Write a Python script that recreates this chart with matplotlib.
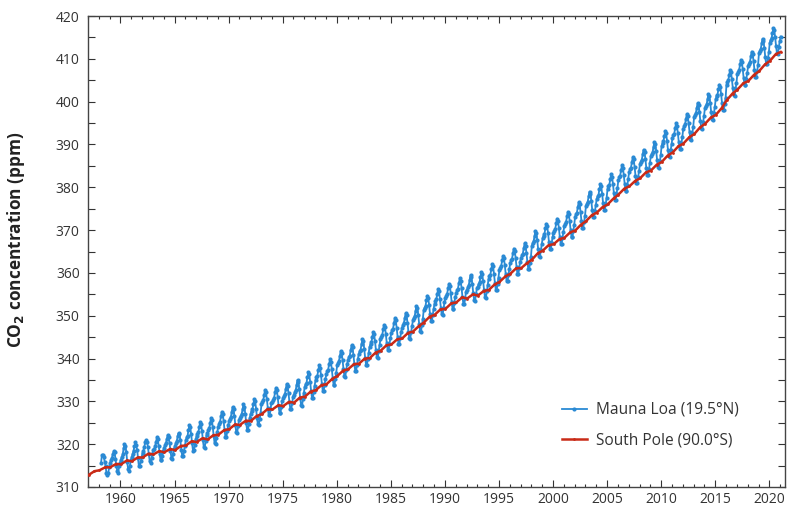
import numpy as np
import matplotlib.pyplot as plt
from matplotlib.ticker import MultipleLocator

# Mauna Loa monthly means (ppm), one row per year, Jan..Dec
ml_start = 1958
mauna_loa = [
    [np.nan, np.nan, 315.7, 317.5, 317.5, 317.1, 315.9, 314.9, 313.2, 312.7, 313.3, 314.7],
    [315.6, 316.4, 316.7, 317.7, 318.3, 318.2, 316.5, 314.8, 313.8, 313.3, 314.8, 315.6],
    [316.4, 317.0, 317.6, 319.0, 320.0, 319.6, 318.2, 315.9, 314.2, 313.8, 315.0, 316.2],
    [316.9, 317.7, 318.5, 319.5, 320.4, 319.8, 318.7, 316.7, 314.8, 315.0, 316.0, 317.1],
    [317.9, 318.5, 319.4, 320.4, 321.0, 320.6, 319.3, 317.6, 316.0, 315.6, 316.8, 317.8],
    [318.6, 318.9, 319.5, 320.6, 321.6, 321.1, 319.5, 317.8, 316.3, 316.2, 317.2, 318.4],
    [319.2, 319.8, 320.2, 321.3, 322.2, 321.6, 320.2, 318.4, 316.8, 316.6, 317.8, 318.9],
    [319.6, 320.2, 320.7, 321.9, 322.6, 322.3, 320.9, 318.7, 317.3, 317.2, 318.4, 319.6],
    [320.9, 321.6, 322.0, 323.3, 324.4, 323.9, 322.3, 320.2, 318.5, 318.6, 319.8, 321.1],
    [321.8, 322.4, 322.8, 324.1, 325.2, 324.7, 323.0, 320.9, 319.3, 319.2, 320.7, 322.1],
    [322.6, 323.2, 323.7, 324.9, 326.1, 325.6, 323.9, 321.8, 320.2, 320.1, 321.5, 322.9],
    [324.1, 324.8, 325.2, 326.5, 327.6, 327.1, 325.4, 323.3, 321.7, 321.6, 323.1, 324.4],
    [325.3, 325.9, 326.3, 327.6, 328.7, 328.2, 326.5, 324.4, 322.8, 322.7, 324.2, 325.6],
    [326.0, 326.6, 327.0, 328.2, 329.3, 328.8, 327.1, 325.0, 323.4, 323.3, 324.8, 326.2],
    [327.1, 327.7, 328.1, 329.4, 330.5, 330.0, 328.3, 326.2, 324.6, 324.5, 325.9, 327.3],
    [329.3, 329.9, 330.3, 331.6, 332.7, 332.2, 330.5, 328.4, 326.8, 326.7, 328.2, 329.6],
    [329.8, 330.4, 330.8, 332.1, 333.2, 332.7, 331.0, 328.9, 327.3, 327.2, 328.7, 330.1],
    [330.7, 331.3, 331.7, 333.0, 334.1, 333.6, 331.9, 329.8, 328.2, 328.1, 329.6, 331.0],
    [331.6, 332.2, 332.6, 333.9, 335.0, 334.5, 332.8, 330.7, 329.1, 329.0, 330.5, 331.9],
    [333.4, 334.0, 334.4, 335.7, 336.8, 336.3, 334.6, 332.5, 330.9, 330.8, 332.3, 333.7],
    [335.0, 335.6, 336.0, 337.3, 338.4, 337.9, 336.2, 334.1, 332.5, 332.4, 333.9, 335.3],
    [336.4, 337.0, 337.4, 338.7, 339.8, 339.3, 337.6, 335.5, 333.9, 333.8, 335.3, 336.7],
    [338.4, 339.0, 339.4, 340.7, 341.8, 341.3, 339.6, 337.5, 335.9, 335.8, 337.3, 338.7],
    [339.7, 340.3, 340.7, 342.0, 343.1, 342.6, 340.9, 338.8, 337.2, 337.1, 338.6, 340.0],
    [341.1, 341.7, 342.1, 343.4, 344.5, 344.0, 342.3, 340.2, 338.6, 338.5, 340.0, 341.4],
    [342.8, 343.4, 343.8, 345.1, 346.2, 345.7, 344.0, 341.9, 340.3, 340.2, 341.7, 343.1],
    [344.5, 345.1, 345.5, 346.8, 347.9, 347.4, 345.7, 343.6, 342.0, 341.9, 343.4, 344.8],
    [346.0, 346.6, 347.0, 348.3, 349.4, 348.9, 347.2, 345.1, 343.5, 343.4, 344.9, 346.3],
    [347.2, 347.8, 348.2, 349.5, 350.6, 350.1, 348.4, 346.3, 344.7, 344.6, 346.1, 347.5],
    [348.9, 349.5, 349.9, 351.2, 352.3, 351.8, 350.1, 348.0, 346.4, 346.3, 347.8, 349.2],
    [351.3, 351.9, 352.3, 353.6, 354.7, 354.2, 352.5, 350.4, 348.8, 348.7, 350.2, 351.6],
    [352.8, 353.4, 353.8, 355.1, 356.2, 355.7, 354.0, 351.9, 350.3, 350.2, 351.7, 353.1],
    [354.1, 354.7, 355.1, 356.4, 357.5, 357.0, 355.3, 353.2, 351.6, 351.5, 353.0, 354.4],
    [355.3, 355.9, 356.3, 357.6, 358.7, 358.2, 356.5, 354.4, 352.8, 352.7, 354.2, 355.6],
    [356.1, 356.7, 357.1, 358.4, 359.5, 359.0, 357.3, 355.2, 353.6, 353.5, 355.0, 356.4],
    [356.8, 357.4, 357.8, 359.1, 360.2, 359.7, 358.0, 355.9, 354.3, 354.2, 355.7, 357.1],
    [358.6, 359.2, 359.6, 360.9, 362.0, 361.5, 359.8, 357.7, 356.1, 356.0, 357.5, 358.9],
    [360.6, 361.2, 361.6, 362.9, 364.0, 363.5, 361.8, 359.7, 358.1, 358.0, 359.5, 360.9],
    [362.3, 362.9, 363.3, 364.6, 365.7, 365.2, 363.5, 361.4, 359.8, 359.7, 361.2, 362.6],
    [363.5, 364.1, 364.5, 365.8, 366.9, 366.4, 364.7, 362.6, 361.0, 360.9, 362.4, 363.8],
    [366.4, 367.0, 367.4, 368.7, 369.8, 369.3, 367.6, 365.5, 363.9, 363.8, 365.3, 366.7],
    [368.1, 368.7, 369.1, 370.4, 371.5, 371.0, 369.3, 367.2, 365.6, 365.5, 367.0, 368.4],
    [369.3, 369.9, 370.3, 371.6, 372.7, 372.2, 370.5, 368.4, 366.8, 366.7, 368.2, 369.6],
    [370.9, 371.5, 371.9, 373.2, 374.3, 373.8, 372.1, 370.0, 368.4, 368.3, 369.8, 371.2],
    [373.1, 373.7, 374.1, 375.4, 376.5, 376.0, 374.3, 372.2, 370.6, 370.5, 372.0, 373.4],
    [375.6, 376.2, 376.6, 377.9, 379.0, 378.5, 376.8, 374.7, 373.1, 373.0, 374.5, 375.9],
    [377.3, 377.9, 378.3, 379.6, 380.7, 380.2, 378.5, 376.4, 374.8, 374.7, 376.2, 377.6],
    [379.6, 380.2, 380.6, 381.9, 383.0, 382.5, 380.8, 378.7, 377.1, 377.0, 378.5, 379.9],
    [381.7, 382.3, 382.7, 384.0, 385.1, 384.6, 382.9, 380.8, 379.2, 379.1, 380.6, 382.0],
    [383.6, 384.2, 384.6, 385.9, 387.0, 386.5, 384.8, 382.7, 381.1, 381.0, 382.5, 383.9],
    [385.4, 386.0, 386.4, 387.7, 388.8, 388.3, 386.6, 384.5, 382.9, 382.8, 384.3, 385.7],
    [387.2, 387.8, 388.2, 389.5, 390.6, 390.1, 388.4, 386.3, 384.7, 384.6, 386.1, 387.5],
    [389.7, 390.3, 390.7, 392.0, 393.1, 392.6, 390.9, 388.8, 387.2, 387.1, 388.6, 390.0],
    [391.5, 392.1, 392.5, 393.8, 394.9, 394.4, 392.7, 390.6, 389.0, 388.9, 390.4, 391.8],
    [393.7, 394.3, 394.7, 396.0, 397.1, 396.6, 394.9, 392.8, 391.2, 391.1, 392.6, 394.0],
    [396.3, 396.9, 397.3, 398.6, 399.7, 399.2, 397.5, 395.4, 393.8, 393.7, 395.2, 396.6],
    [398.4, 399.0, 399.4, 400.7, 401.8, 401.3, 399.6, 397.5, 395.9, 395.8, 397.3, 398.7],
    [400.6, 401.2, 401.6, 402.9, 404.0, 403.5, 401.8, 399.7, 398.1, 398.0, 399.5, 400.9],
    [404.0, 404.6, 405.0, 406.3, 407.4, 406.9, 405.2, 403.1, 401.5, 401.4, 402.9, 404.3],
    [406.4, 407.0, 407.4, 408.7, 409.8, 409.3, 407.6, 405.5, 403.9, 403.8, 405.3, 406.7],
    [408.3, 408.9, 409.3, 410.6, 411.7, 411.2, 409.5, 407.4, 405.8, 405.7, 407.2, 408.6],
    [411.3, 411.9, 412.3, 413.6, 414.7, 414.2, 412.5, 410.4, 408.8, 408.7, 410.2, 411.6],
    [413.8, 414.4, 414.8, 416.1, 417.2, 416.7, 415.0, 412.9, 411.3, 411.2, 412.7, 414.1],
    [415.2, np.nan, np.nan, np.nan, np.nan, np.nan, np.nan, np.nan, np.nan, np.nan, np.nan, np.nan],
]

# South Pole (ppm), one row per year: late-summer low, winter high
sp_start = 1957
south_pole = [
    [312.8, 313.7], [313.9, 314.6], [314.6, 315.4], [315.3, 316.2], [316.0, 316.9],
    [316.9, 317.8], [317.6, 318.4], [318.1, 318.9], [318.6, 319.6], [319.7, 320.7],
    [320.5, 321.4], [321.1, 322.1], [322.2, 323.3], [323.5, 324.6], [324.5, 325.5],
    [325.4, 326.6], [327.0, 328.2], [328.1, 329.1], [328.9, 329.9], [329.7, 330.9],
    [331.1, 332.3], [332.6, 333.8], [334.0, 335.3], [335.9, 337.2], [337.5, 338.7],
    [338.8, 340.0], [340.1, 341.4], [341.8, 343.1], [343.3, 344.5], [344.7, 346.0],
    [346.3, 347.6], [348.4, 349.8], [350.2, 351.5], [351.6, 352.9], [353.1, 354.3],
    [354.0, 355.0], [354.7, 355.8], [356.0, 357.3], [357.9, 359.2], [359.8, 361.1],
    [361.1, 362.3], [363.1, 364.6], [365.2, 366.5], [366.7, 367.9], [368.2, 369.5],
    [369.9, 371.3], [372.1, 373.5], [374.1, 375.4], [376.0, 377.4], [378.3, 379.7],
    [380.2, 381.5], [382.1, 383.5], [383.9, 385.3], [385.9, 387.4], [388.1, 389.6],
    [390.2, 391.7], [392.4, 394.0], [394.8, 396.3], [396.9, 398.5], [400.3, 401.9],
    [402.8, 404.3], [404.8, 406.3], [407.1, 408.7], [409.5, 411.1], [411.6, np.nan],
]

ml = np.array(mauna_loa).ravel()
ml_t = ml_start + np.arange(ml.size) / 12 + 1 / 24
keep = ~np.isnan(ml)
ml, ml_t = ml[keep], ml_t[keep]

sp = np.array(south_pole).ravel()
sp_t = sp_start + np.repeat(np.arange(len(south_pole)), 2) + np.tile([0.05, 0.6], len(south_pole))
keep = ~np.isnan(sp)
sp, sp_t = sp[keep], sp_t[keep]

blue = "#2a8ad4"
red = "#c92a17"
txt = "#333333"

plt.rcParams["font.family"] = ["Open Sans", "DejaVu Sans"]

fig = plt.figure(figsize=(7.89, 5.08), dpi=100)
ax = fig.add_axes([88 / 789, 1 - 487 / 508, (785 - 88) / 789, (487 - 16) / 508])

ax.plot(ml_t, ml, color=blue, lw=1.3, marker="o", ms=3.0, mew=0,
        label="Mauna Loa (19.5°N)", zorder=2)
ax.plot(sp_t, sp, color=red, lw=1.8, marker="o", ms=2.0, mew=0,
        label="South Pole (90.0°S)", zorder=3)

ax.set_xlim(1957.0, 2021.45)
ax.set_ylim(310, 420)
ax.xaxis.set_major_locator(MultipleLocator(5))
ax.xaxis.set_minor_locator(MultipleLocator(1))
ax.yaxis.set_major_locator(MultipleLocator(10))
ax.yaxis.set_minor_locator(MultipleLocator(5))
ax.tick_params(which="both", direction="in", top=True, right=True,
               color=txt, labelcolor=txt, labelsize=10)
ax.tick_params(which="major", length=5, width=0.8)
ax.tick_params(which="minor", length=2.5, width=0.8)
ax.tick_params(axis="y", which="minor", length=5)
ax.tick_params(axis="y", pad=6)
for s in ax.spines.values():
    s.set_color("#444444")
    s.set_linewidth(1.0)

ax.set_ylabel("CO$_\\mathbf{2}$ concentration (ppm)", fontsize=12.4, fontweight="bold",
              color="#222222")
ax.yaxis.set_label_coords(-0.088, 0.525)

ax.legend(loc="upper left", bbox_to_anchor=(548 / 789, 1 - 388 / 508),
          bbox_transform=fig.transFigure, frameon=False, fontsize=11.2,
          handlelength=1.6, handletextpad=0.6, labelspacing=0.95, labelcolor=txt)

fig.savefig("out.png", dpi=100)
